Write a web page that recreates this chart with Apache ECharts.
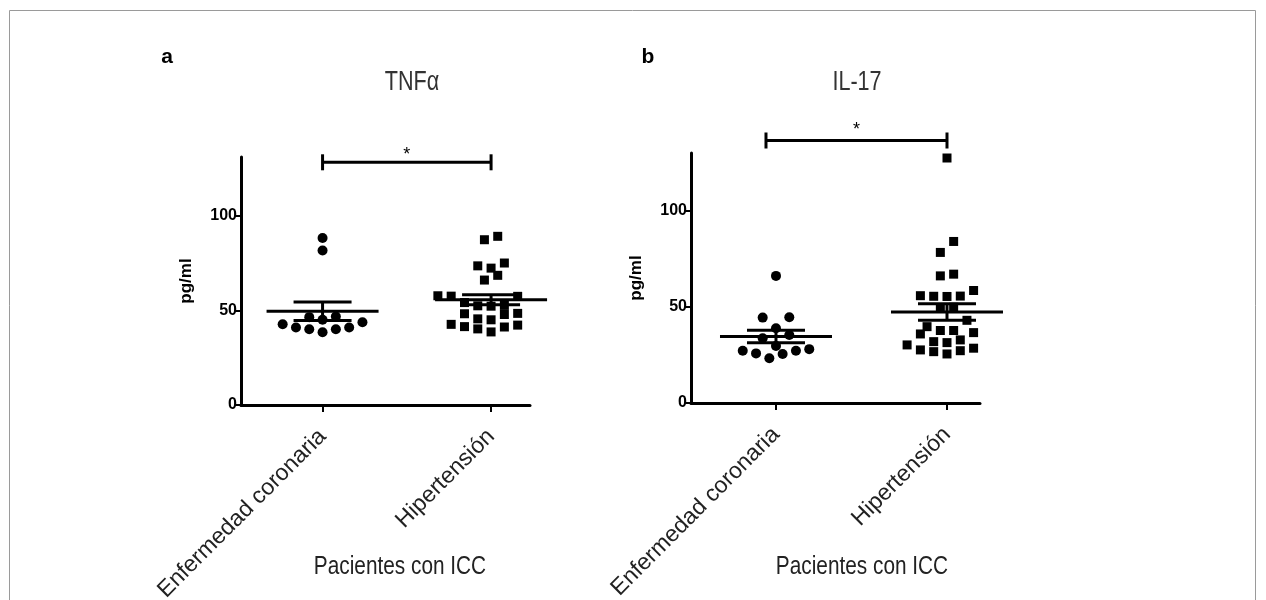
<!DOCTYPE html>
<html>
<head>
<meta charset="utf-8">
<title>TNFα e IL-17 en pacientes con ICC</title>
<script src="https://cdn.jsdelivr.net/npm/echarts@6.0.0/dist/echarts.min.js"></script>
<style>
html, body { margin: 0; padding: 0; background: #fff; }
#chart { width: 1266px; height: 600px; }
</style>
</head>
<body>
<div id="chart"></div>
<script>
// values (pg/ml)
var groups = ['Enfermedad coronaria', 'Hipertensión'];
var tnfCoronaria = [88.2, 81.6, 46.7, 46.4, 45.0, 43.7, 42.7, 40.9, 40.9, 40.0, 40.0, 38.4];
var tnfHipertension = [89.1, 87.3, 75.0, 73.5, 72.3, 68.5, 66.0, 57.8, 57.7, 57.6, 57.5, 57.4,
    54.1, 52.6, 52.4, 52.2, 48.4, 48.2, 47.8, 45.5, 45.0, 44.0, 42.6, 42.2, 41.4, 41.2, 40.2, 38.6];
var il17Coronaria = [66.1, 44.6, 44.4, 38.9, 35.4, 33.7, 29.7, 28.0, 27.2, 27.2, 25.8, 25.5, 23.3];
var il17Hipertension = [127.4, 84.0, 78.3, 67.0, 66.1, 58.5, 55.8, 55.6, 55.5, 55.4, 49.8, 49.2,
    43.0, 39.7, 37.7, 37.7, 36.6, 35.9, 32.8, 31.9, 31.4, 30.2, 30.2, 28.5, 27.6, 27.2, 26.7, 25.5];
var yTicks = [0, 50, 100];

var chart = echarts.init(document.getElementById('chart'));
var SANS = '"Liberation Sans", Arial, sans-serif';

function meanSem(values) {
    var n = values.length, sum = 0, ss = 0;
    values.forEach(function (v) { sum += v; });
    var m = sum / n;
    values.forEach(function (v) { ss += (v - m) * (v - m); });
    return [m, Math.sqrt(ss / (n - 1)) / Math.sqrt(n)];
}

function xAxisFor(g, min, max) {
    return {
        type: 'value', gridIndex: g, min: min, max: max,
        splitLine: { show: false },
        axisLine: { show: true, onZero: false, lineStyle: { color: '#000', width: 3 } },
        axisTick: { show: true, customValues: [1, 2], length: 7, lineStyle: { color: '#000', width: 2 } },
        axisLabel: {
            customValues: [1, 2], rotate: 45, margin: 28,
            color: '#222', fontSize: 23, fontFamily: SANS,
            formatter: function (v) { return groups[Math.round(v) - 1]; }
        }
    };
}

function yAxisFor(g, max) {
    return {
        type: 'value', gridIndex: g, min: 0, max: max,
        name: 'pg/ml', nameLocation: 'middle', nameGap: 46,
        nameTextStyle: { fontSize: 17, fontWeight: 'bold', color: '#000', fontFamily: SANS },
        splitLine: { show: false },
        axisLine: { show: true, onZero: false, lineStyle: { color: '#000', width: 3 } },
        axisTick: { show: true, customValues: yTicks, length: 6, lineStyle: { color: '#000', width: 2 } },
        axisLabel: { customValues: yTicks, margin: 4, color: '#000', fontSize: 16, fontWeight: 'bold', fontFamily: SANS }
    };
}

function scatter(id, symbol, size, g) {
    return {
        id: id, type: 'scatter', xAxisIndex: g, yAxisIndex: g,
        symbol: symbol, symbolSize: size, itemStyle: { color: '#000', opacity: 1 }, data: []
    };
}

function errorBars(g, a, b) {
    var s1 = meanSem(a), s2 = meanSem(b);
    return {
        type: 'custom', xAxisIndex: g, yAxisIndex: g, z: 5, silent: true,
        data: [[1, s1[0], s1[1]], [2, s2[0], s2[1]]],
        encode: { x: 0, y: 1 },
        renderItem: function (params, api) {
            var x = api.value(0), m = api.value(1), s = api.value(2);
            var c = api.coord([x, m]), hi = api.coord([x, m + s]), lo = api.coord([x, m - s]);
            var st = { stroke: '#000', lineWidth: 3 };
            return {
                type: 'group', children: [
                    { type: 'line', shape: { x1: c[0] - 56, y1: c[1], x2: c[0] + 56, y2: c[1] }, style: st },
                    { type: 'line', shape: { x1: c[0] - 29, y1: hi[1], x2: c[0] + 29, y2: hi[1] }, style: st },
                    { type: 'line', shape: { x1: c[0] - 29, y1: lo[1], x2: c[0] + 29, y2: lo[1] }, style: st },
                    { type: 'line', shape: { x1: c[0], y1: hi[1], x2: c[0], y2: lo[1] }, style: st }
                ]
            };
        }
    };
}

function bracket(g, level, leftShift, starGap) {
    return {
        type: 'custom', xAxisIndex: g, yAxisIndex: g, clip: false, silent: true,
        data: [[1, 2]],
        renderItem: function (params, api) {
            var p1 = api.coord([api.value(0), level]), p2 = api.coord([api.value(1), level]);
            var x1 = p1[0] - leftShift, x2 = p2[0], y = p1[1];
            var st = { stroke: '#000', lineWidth: 3 };
            return {
                type: 'group', children: [
                    { type: 'line', shape: { x1: x1, y1: y, x2: x2, y2: y }, style: st },
                    { type: 'line', shape: { x1: x1, y1: y - 8, x2: x1, y2: y + 8 }, style: st },
                    { type: 'line', shape: { x1: x2, y1: y - 8, x2: x2, y2: y + 8 }, style: st },
                    { type: 'text', x: (x1 + x2) / 2, y: y - starGap,
                      style: { text: '*', fill: '#000', font: '18px ' + SANS, textAlign: 'center', textVerticalAlign: 'middle' } }
                ]
            };
        }
    };
}

// narrow-looking captions: regular sans squeezed horizontally
function label(text, x, y, font, color, sx) {
    return { type: 'text', x: x, y: y, scaleX: sx, silent: true,
        style: { text: text, font: font, fill: color, textAlign: 'center', textVerticalAlign: 'middle' } };
}

var option = {
    animation: false,
    backgroundColor: '#fff',
    grid: [
        { left: 241, top: 157, width: 289, height: 248, outerBoundsMode: 'none', containLabel: false },
        { left: 691, top: 153, width: 289, height: 250, outerBoundsMode: 'none', containLabel: false }
    ],
    xAxis: [xAxisFor(0, 0.516, 2.231), xAxisFor(1, 0.503, 2.193)],
    yAxis: [yAxisFor(0, 131), yAxisFor(1, 130)],
    graphic: [
        { type: 'rect', silent: true, shape: { x: 9.5, y: 10.5, width: 1246, height: 620 },
          style: { fill: 'none', stroke: '#9a9a9a', lineWidth: 1 } },
        label('a', 167, 57, 'bold 21px ' + SANS, '#000', 1),
        label('b', 648, 57, 'bold 21px ' + SANS, '#000', 1),
        label('TNFα', 412, 83, '27px ' + SANS, '#333', 0.8),
        label('IL-17', 857, 83, '27px ' + SANS, '#333', 0.8),
        label('Pacientes con ICC', 400, 567, '26px ' + SANS, '#222', 0.8),
        label('Pacientes con ICC', 862, 567, '26px ' + SANS, '#222', 0.8)
    ],
    series: [
        scatter('tnfC', 'circle', 10, 0),
        scatter('tnfH', 'rect', 9, 0),
        scatter('ilC', 'circle', 10, 1),
        scatter('ilH', 'rect', 9, 1),
        errorBars(0, tnfCoronaria, tnfHipertension),
        errorBars(1, il17Coronaria, il17Hipertension),
        bracket(0, 128.2, 0, 7),
        bracket(1, 136.5, 10, 10)
    ]
};
chart.setOption(option);

// column scatter: points of similar value share a row, spread around the group centre
var ROW_H = 11, STEP = 13.3;
function swarm(values, cat, g) {
    var pxPerX = chart.convertToPixel({ gridIndex: g }, [2, 0])[0] - chart.convertToPixel({ gridIndex: g }, [1, 0])[0];
    var sorted = values.slice().sort(function (a, b) { return a - b; });
    var rows = [];
    sorted.forEach(function (v) {
        var y = chart.convertToPixel({ gridIndex: g }, [cat, v])[1];
        var row = rows[rows.length - 1];
        if (row && row.y0 - y < ROW_H) row.items.push(v);
        else rows.push({ y0: y, items: [v] });
    });
    var pts = [];
    rows.forEach(function (row) {
        var n = row.items.length, slots = [];
        for (var j = 0; j < n; j++) slots.push((j - (n - 1) / 2) * STEP);
        slots.sort(function (a, b) { return Math.abs(a) - Math.abs(b) || a - b; });
        row.items.forEach(function (v, i) { pts.push([cat + slots[i] / pxPerX, v]); });
    });
    return pts;
}

chart.setOption({
    series: [
        { id: 'tnfC', data: swarm(tnfCoronaria, 1, 0) },
        { id: 'tnfH', data: swarm(tnfHipertension, 2, 0) },
        { id: 'ilC', data: swarm(il17Coronaria, 1, 1) },
        { id: 'ilH', data: swarm(il17Hipertension, 2, 1) }
    ]
});
</script>
</body>
</html>
